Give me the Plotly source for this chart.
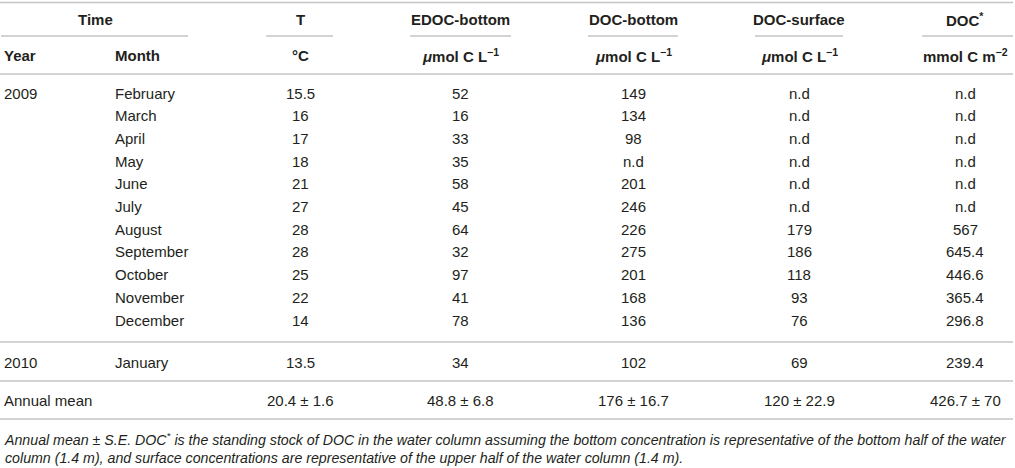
import plotly.graph_objects as go

# ---- data ----
years = ["2009", "", "", "", "", "", "", "", "", "", "", "2010"]
months = ["February", "March", "April", "May", "June", "July", "August",
          "September", "October", "November", "December", "January"]
temp_c = ["15.5", "16", "17", "18", "21", "27", "28", "28", "25", "22", "14", "13.5"]
edoc_bottom = ["52", "16", "33", "35", "58", "45", "64", "32", "97", "41", "78", "34"]
doc_bottom = ["149", "134", "98", "n.d", "201", "246", "226", "275", "201", "168", "136", "102"]
doc_surface = ["n.d", "n.d", "n.d", "n.d", "n.d", "n.d", "179", "186", "118", "93", "76", "69"]
doc_star = ["n.d", "n.d", "n.d", "n.d", "n.d", "n.d", "567", "645.4", "446.6", "365.4", "296.8", "239.4"]
annual_mean = ["20.4 ± 1.6", "48.8 ± 6.8", "176 ± 16.7", "120 ± 22.9", "426.7 ± 70"]

group_headers = ["Time", "T", "EDOC-bottom", "DOC-bottom", "DOC-surface", "DOC<sup>*</sup>"]
unit_headers = ["°C", "<i>μ</i>mol C L<sup>−1</sup>", "<i>μ</i>mol C L<sup>−1</sup>",
                "<i>μ</i>mol C L<sup>−1</sup>", "mmol C m<sup>−2</sup>"]
footnote = ("<i>Annual mean ± S.E. DOC<sup>*</sup> is the standing stock of DOC in the water column "
            "assuming the bottom concentration is representative of the bottom half of the water<br>"
            "column (1.4 m), and surface concentrations are representative of the upper half of the "
            "water column (1.4 m).</i>")

# ---- layout geometry ----
W, H = 1015, 468
x_year, x_month = 2, 113
value_cols = [300, 460, 633, 799, 965]       # centres of value columns
group_x = [95] + value_cols
underline_spans = [(1, 188), (266, 333), (410, 511), (588, 678), (755, 843), (922, 1013)]
y_head1, y_underline, y_head2, y_headline = 19.5, 36, 55, 74
y_first, row_step = 93, 22.7
y_line_2010, y_2010 = 342, 362
y_line_mean, y_mean, y_line_end = 381, 400, 419
y_foot = 448

TXT = "#231f20"
LINE = "#c4c4c4"
FONT = "Liberation Sans, Arial, Helvetica, sans-serif"

ann = []
def add(x, y, text, anchor="center", size=15, bold=False):
    if bold:
        text = "<b>" + text + "</b>"
    ann.append(dict(x=x, y=y, xref="x", yref="y", text=text, showarrow=False,
                    xanchor=anchor, yanchor="middle",
                    font=dict(family=FONT, size=size, color=TXT)))

# headers
for gx, gh in zip(group_x, group_headers):
    add(gx, y_head1, gh, bold=True)
add(x_year, y_head2, "Year", "left", bold=True)
add(x_month, y_head2, "Month", "left", bold=True)
for vx, uh in zip(value_cols, unit_headers):
    add(vx, y_head2, uh, bold=True)

# body rows
cols = [temp_c, edoc_bottom, doc_bottom, doc_surface, doc_star]
for i in range(len(months)):
    y = y_first + i * row_step if i < 11 else y_2010
    if years[i]:
        add(x_year, y, years[i], "left")
    add(x_month, y, months[i], "left")
    for vx, col in zip(value_cols, cols):
        add(vx, y, col[i])

add(x_year, y_mean, "Annual mean", "left")
for vx, m in zip(value_cols, annual_mean):
    add(vx, y_mean, m)

ann.append(dict(x=x_year, y=y_foot, xref="x", yref="y", text=footnote, showarrow=False,
                xanchor="left", yanchor="middle", align="left",
                font=dict(family=FONT, size=14.2, color=TXT)))

shapes = []
def hline(x0, x1, y, w=1.6):
    shapes.append(dict(type="line", xref="x", yref="y", x0=x0, x1=x1, y0=y, y1=y,
                       line=dict(color=LINE, width=w)))

hline(0, 1013, 2.5)
for a, b in underline_spans:
    hline(a, b, y_underline)
for y in (y_headline, y_line_2010, y_line_mean, y_line_end):
    hline(0, 1013, y)

fig = go.Figure()
fig.add_trace(go.Scatter(x=[0], y=[0], mode="markers", marker=dict(opacity=0),
                         hoverinfo="skip", showlegend=False))
fig.update_layout(
    width=W, height=H, margin=dict(l=0, r=0, t=0, b=0),
    paper_bgcolor="white", plot_bgcolor="white",
    xaxis=dict(range=[0, W], visible=False, fixedrange=True),
    yaxis=dict(range=[H, 0], visible=False, fixedrange=True),
    annotations=ann, shapes=shapes, showlegend=False,
)
fig.write_html("out.html", config={"displayModeBar": False},
               post_script="document.body.style.margin='0';document.body.style.overflow='hidden';")
